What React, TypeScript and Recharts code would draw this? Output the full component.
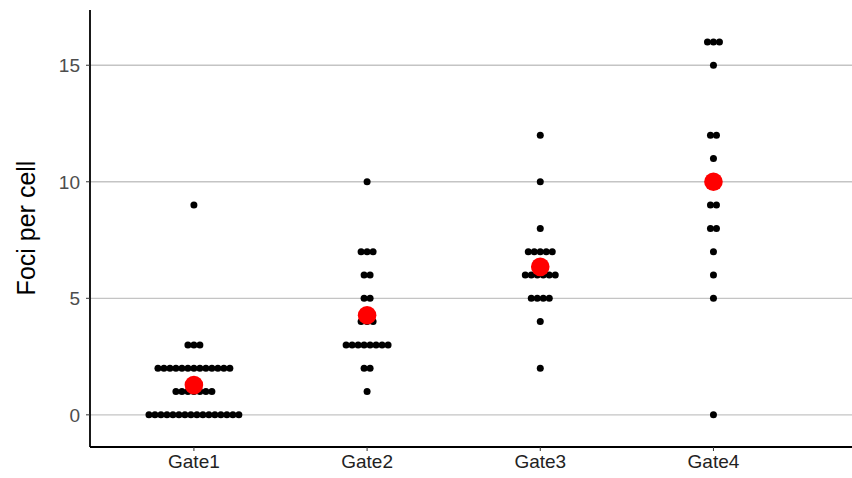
import React from 'react';
import {
  ScatterChart,
  Scatter,
  XAxis,
  YAxis,
  CartesianGrid,
} from 'recharts';

const gates = ['Gate1', 'Gate2', 'Gate3', 'Gate4'];

// foci counts per cell, one entry per cell
const gate1Foci = [
  0, 0, 0, 0, 0, 0, 0, 0, 0, 0, 0, 0, 0, 0, 0, 0,
  1, 1, 1, 1, 1, 1, 1,
  2, 2, 2, 2, 2, 2, 2, 2, 2, 2, 2, 2, 2,
  3, 3, 3,
  9,
];
const gate2Foci = [1, 2, 2, 3, 3, 3, 3, 3, 3, 3, 3, 4, 4, 4, 5, 5, 6, 6, 7, 7, 7, 10];
const gate3Foci = [2, 4, 5, 5, 5, 5, 6, 6, 6, 6, 6, 6, 7, 7, 7, 7, 7, 8, 10, 12];
const gate4Foci = [0, 5, 6, 7, 8, 8, 9, 9, 11, 12, 12, 15, 16, 16, 16];

const yTicks = [0, 5, 10, 15];

const font = '"Liberation Sans", Arial, Helvetica, sans-serif';
const DOT_STEP = 0.0346; // horizontal step between stacked dots, in x units

const allGates = [gate1Foci, gate2Foci, gate3Foci, gate4Foci];

// centre-stacked dotplot: dots sharing a value are spread sideways
const dots = allGates.flatMap((vals, gi) => {
  const counts: Record<number, number> = {};
  vals.forEach((v) => (counts[v] = (counts[v] || 0) + 1));
  return Object.keys(counts).flatMap((k) => {
    const v = Number(k);
    const n = counts[v];
    return Array.from({ length: n }, (_, i) => ({
      x: gi + 1 + (i - (n - 1) / 2) * DOT_STEP,
      y: v,
    }));
  });
});

const means = allGates.map((vals, gi) => ({
  x: gi + 1,
  y: vals.reduce((a, b) => a + b, 0) / vals.length,
}));

const BlackDot = (props: any) => (
  <circle cx={props.cx} cy={props.cy} r={3.5} fill="#000" />
);
const RedDot = (props: any) => (
  <circle cx={props.cx} cy={props.cy} r={9.3} fill="#ff0000" />
);

const YLabel = () => {
  const cy = 228;
  return (
    <text
      x={26}
      y={cy}
      transform={`rotate(-90, 26, ${cy})`}
      textAnchor="middle"
      dominantBaseline="central"
      fontFamily={font}
      fontSize={25}
      fill="#000"
    >
      Foci per cell
    </text>
  );
};

export default function App() {
  return (
    <div style={{ position: 'fixed', left: 0, top: 0, width: 852, height: 478, background: '#fff' }}>
      <ScatterChart
        width={852}
        height={478}
        margin={{ top: 10, right: 0, bottom: 0, left: 0 }}
      >
        <CartesianGrid
          vertical={false}
          horizontalValues={yTicks}
          stroke="#c4c4c4"
          strokeWidth={1.3}
        />
        <XAxis
          type="number"
          dataKey="x"
          domain={[0.4, 4.8]}
          ticks={[1, 2, 3, 4]}
          tickFormatter={(v: number) => gates[v - 1]}
          allowDataOverflow
          height={31}
          tickSize={4}
          tickMargin={4}
          axisLine={{ stroke: '#000', strokeWidth: 1.8 }}
          tickLine={{ stroke: '#333' }}
          tick={{ fill: '#222', fontSize: 19, fontFamily: font }}
        />
        <YAxis
          type="number"
          dataKey="y"
          domain={[-1.38, 17.37]}
          ticks={yTicks}
          allowDataOverflow
          width={90}
          tickSize={4}
          tickMargin={6}
          axisLine={{ stroke: '#000', strokeWidth: 1.8 }}
          tickLine={{ stroke: '#333' }}
          tick={{ fill: '#4d4d4d', fontSize: 19, fontFamily: font }}
          label={<YLabel />}
        />
        <Scatter data={dots} shape={<BlackDot />} isAnimationActive={false} />
        <Scatter data={means} shape={<RedDot />} isAnimationActive={false} />
      </ScatterChart>
    </div>
  );
}
